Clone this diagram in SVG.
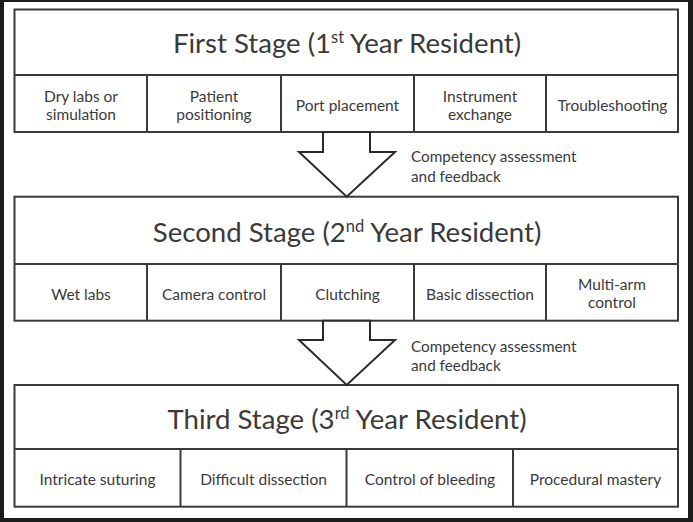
<svg xmlns="http://www.w3.org/2000/svg" width="693" height="522" viewBox="0 0 693 522">
<style>
.box{fill:#fff;stroke:#3a3a3a;stroke-width:2}
.ln{stroke:#3a3a3a;stroke-width:2;fill:none}
.arrow{fill:#fff;stroke:#2a2a2a;stroke-width:2;stroke-linejoin:miter}
text{font-family:Lato,"Open Sans","Liberation Sans",sans-serif;fill:#3a3a3a}
.t{font-size:27.6px;text-anchor:middle}
.s{font-size:15.5px;text-anchor:middle}
.c{font-size:15.3px}
</style>
<rect x="0" y="0" width="693" height="522" fill="#1c1c1c"/>
<rect x="4" y="2" width="684" height="516" fill="#fff"/>
<g id="stage1">
<rect class="box" x="14.5" y="9.5" width="663.5" height="122.5"/>
<line class="ln" x1="14.5" y1="75" x2="678" y2="75"/>
<line class="ln" x1="147" y1="75" x2="147" y2="132"/>
<line class="ln" x1="281" y1="75" x2="281" y2="132"/>
<line class="ln" x1="414" y1="75" x2="414" y2="132"/>
<line class="ln" x1="546" y1="75" x2="546" y2="132"/>
<text class="t" x="347" y="53">First Stage (1<tspan font-size="16.5" dy="-10">st</tspan><tspan dy="10"> Year Resident)</tspan></text>
<text class="s" x="81" y="102">Dry labs or</text>
<text class="s" x="81" y="119.5">simulation</text>
<text class="s" x="214" y="102">Patient</text>
<text class="s" x="214" y="119.5">positioning</text>
<text class="s" x="347.5" y="111">Port placement</text>
<text class="s" x="480" y="102">Instrument</text>
<text class="s" x="480" y="119.5">exchange</text>
<text class="s" x="612.5" y="111">Troubleshooting</text>
</g>
<g id="stage2">
<rect class="box" x="14.5" y="196.7" width="663.5" height="124"/>
<line class="ln" x1="14.5" y1="264" x2="678" y2="264"/>
<line class="ln" x1="147" y1="264" x2="147" y2="320.7"/>
<line class="ln" x1="281" y1="264" x2="281" y2="320.7"/>
<line class="ln" x1="414" y1="264" x2="414" y2="320.7"/>
<line class="ln" x1="546" y1="264" x2="546" y2="320.7"/>
<text class="t" x="347" y="242">Second Stage (2<tspan font-size="16.5" dy="-10">nd</tspan><tspan dy="10"> Year Resident)</tspan></text>
<text class="s" x="81" y="299.5">Wet labs</text>
<text class="s" x="214" y="299.5">Camera control</text>
<text class="s" x="347.5" y="299.5">Clutching</text>
<text class="s" x="480" y="299.5">Basic dissection</text>
<text class="s" x="612" y="290">Multi-arm</text>
<text class="s" x="612" y="307.7">control</text>
</g>
<g id="stage3">
<rect class="box" x="14.5" y="385" width="663.5" height="121.7"/>
<line class="ln" x1="14.5" y1="449" x2="678" y2="449"/>
<line class="ln" x1="180.5" y1="449" x2="180.5" y2="506.7"/>
<line class="ln" x1="346.5" y1="449" x2="346.5" y2="506.7"/>
<line class="ln" x1="513" y1="449" x2="513" y2="506.7"/>
<text class="t" x="347" y="429">Third Stage (3<tspan font-size="16.5" dy="-10">rd</tspan><tspan dy="10"> Year Resident)</tspan></text>
<text class="s" x="97.5" y="485">Intricate suturing</text>
<text class="s" x="263.5" y="485">Difficult dissection</text>
<text class="s" x="430" y="485">Control of bleeding</text>
<text class="s" x="595.5" y="485">Procedural mastery</text>
</g>
<g id="connectors">
<polygon class="arrow" points="323,132 370,132 370,152 395,152 346.7,196.7 299,152 323,152"/>
<polygon class="arrow" points="323,320.7 370,320.7 370,340 395,340 346.7,385 299,340 323,340"/>
<text class="c" x="411" y="162">Competency assessment</text>
<text class="c" x="411" y="181.5">and feedback</text>
<text class="c" x="411" y="351.5">Competency assessment</text>
<text class="c" x="411" y="370.5">and feedback</text>
</g>
</svg>
